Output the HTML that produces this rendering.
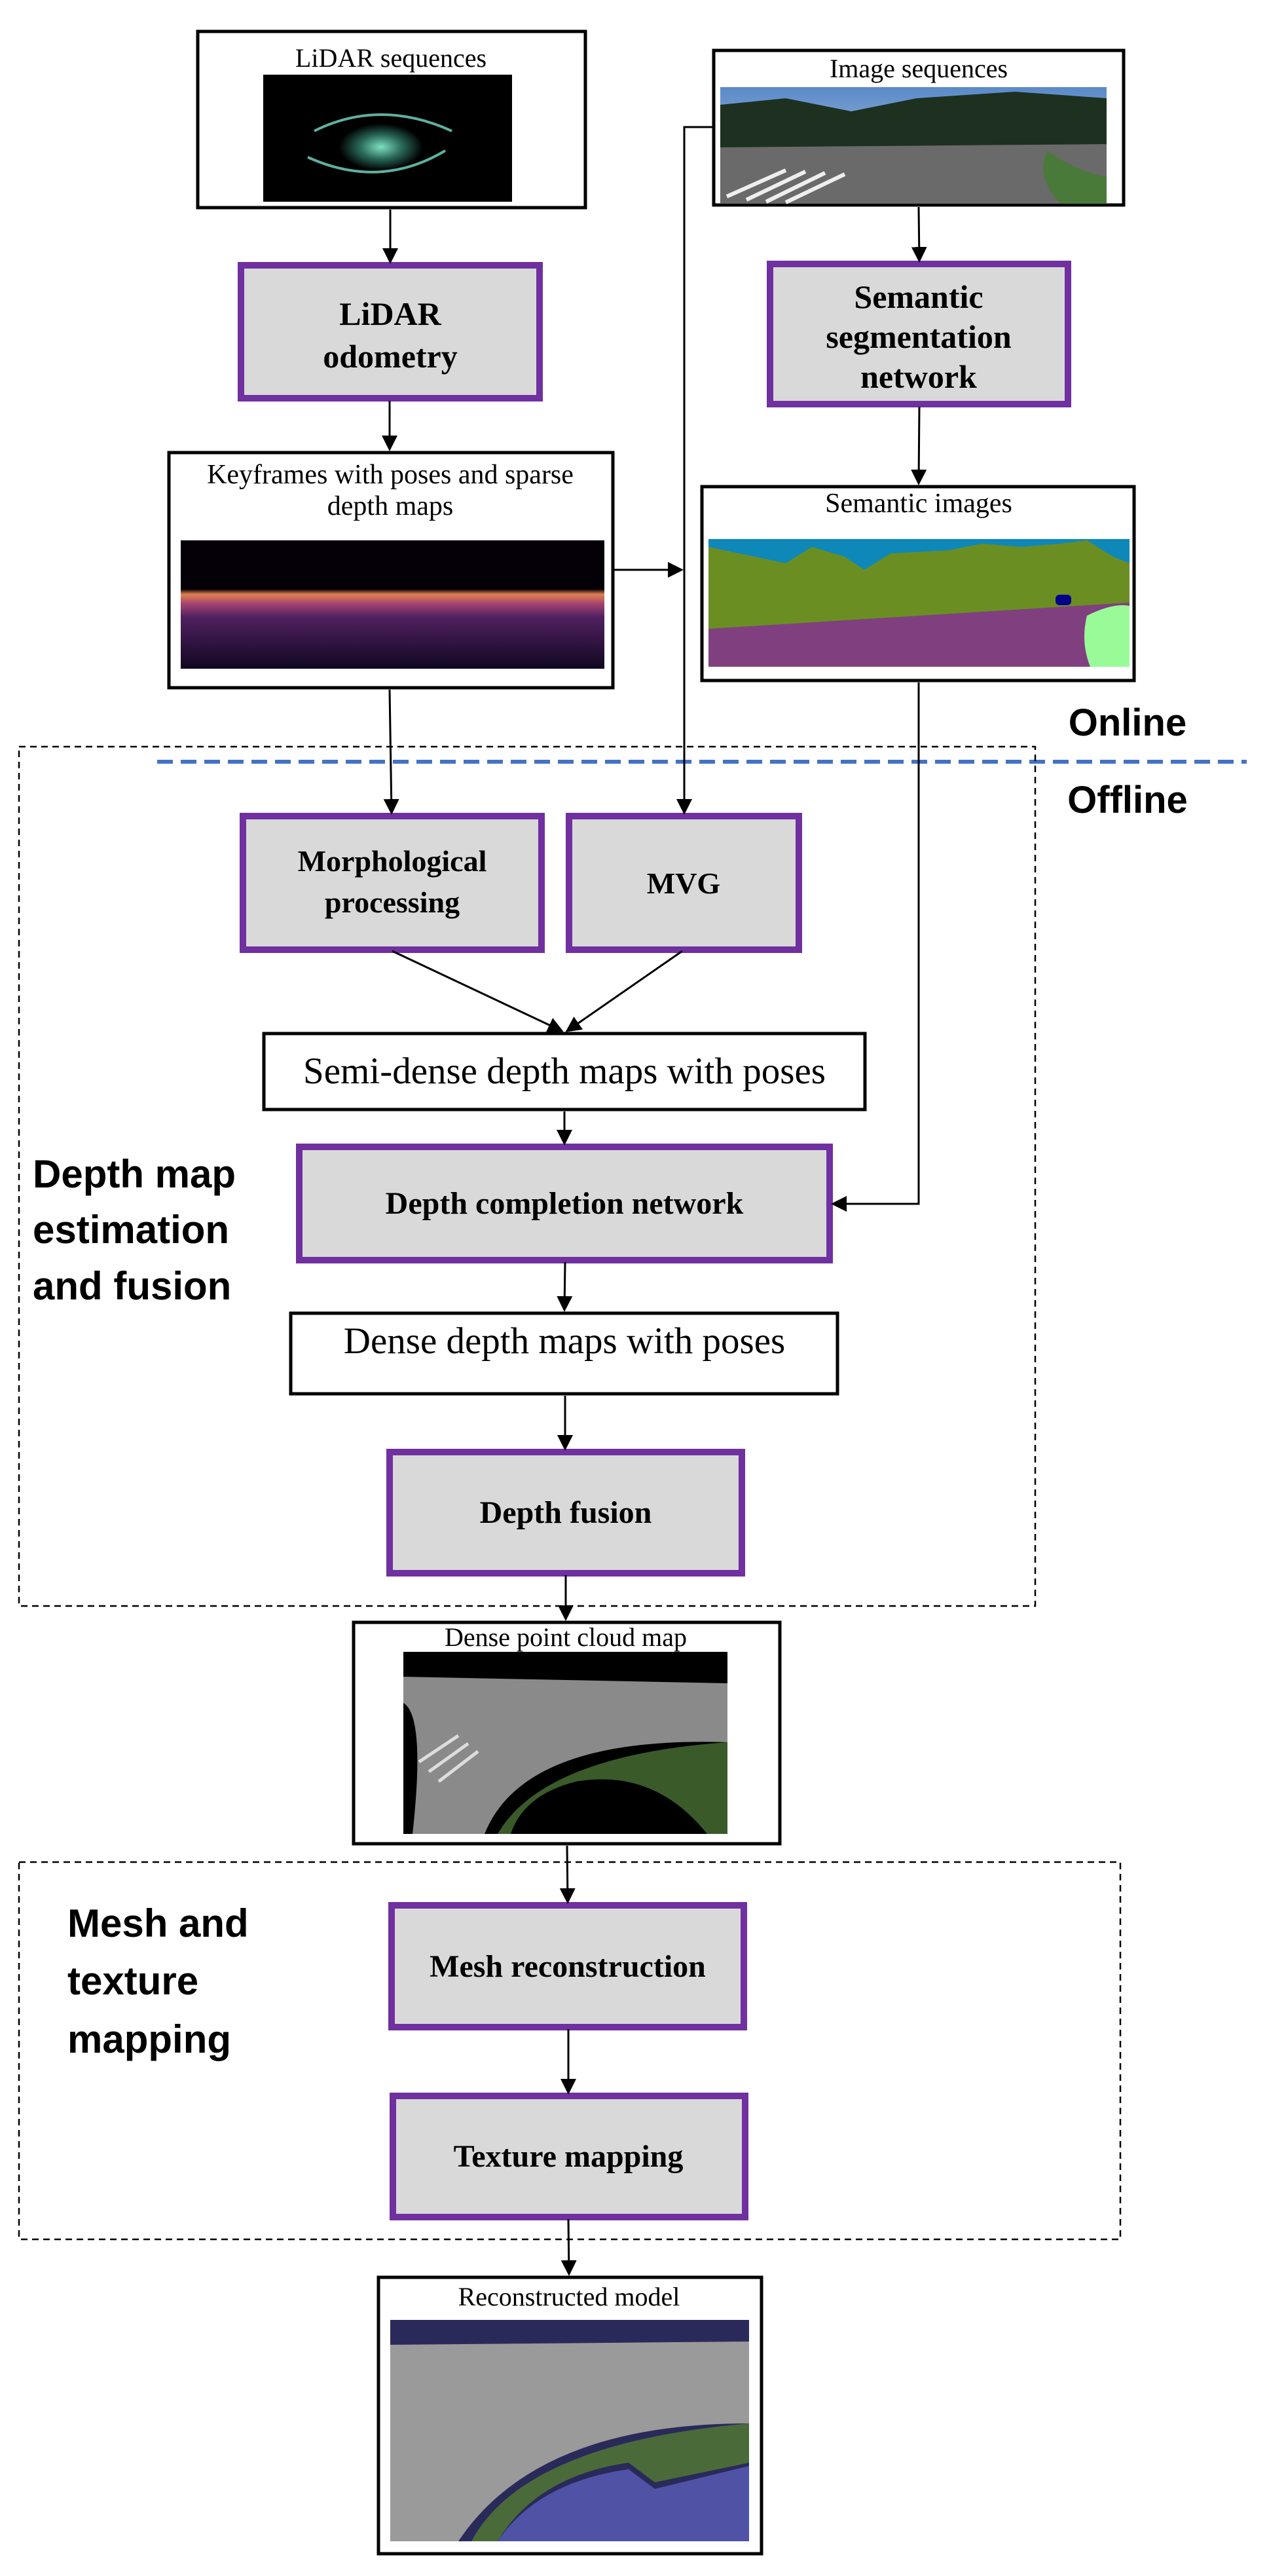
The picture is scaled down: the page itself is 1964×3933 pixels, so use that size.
<!DOCTYPE html>
<html><head><meta charset="utf-8"><style>html,body{margin:0;padding:0;background:#fff}svg{display:block}</style></head>
<body>
<svg xmlns="http://www.w3.org/2000/svg" width="1964" height="3933" viewBox="0 0 1964 3933">
<defs>
<marker id="ah" markerWidth="8" markerHeight="8" refX="7" refY="4" orient="auto" markerUnits="strokeWidth">
<path d="M0,0 L8,4 L0,8 z" fill="#000"/></marker>
<radialGradient id="lid" cx="0.48" cy="0.55" r="0.4"><stop offset="0" stop-color="#7fe0c0"/><stop offset="0.5" stop-color="#2a6a5a"/><stop offset="1" stop-color="#000"/></radialGradient>
<linearGradient id="kf" x1="0" y1="0" x2="0" y2="1"><stop offset="0" stop-color="#050008"/><stop offset="0.38" stop-color="#050008"/><stop offset="0.42" stop-color="#e08050"/><stop offset="0.5" stop-color="#a04070"/><stop offset="0.6" stop-color="#502060"/><stop offset="1" stop-color="#100820"/></linearGradient>
<linearGradient id="sky" x1="0" y1="0" x2="0" y2="1"><stop offset="0" stop-color="#5a8ac8"/><stop offset="1" stop-color="#c8d8e8"/></linearGradient>
</defs>
<g font-family="Liberation Serif, serif" text-anchor="middle">
<!-- LiDAR sequences -->
<rect x="302" y="48" width="592" height="269" fill="#fff" stroke="#000" stroke-width="5"/>
<text x="597" y="102" font-size="40">LiDAR sequences</text>
<rect x="402" y="114" width="380" height="194" fill="#000"/>
<ellipse cx="585" cy="220" rx="80" ry="45" fill="url(#lid)"/>
<path d="M480 200 Q580 150 690 200 M470 240 Q580 290 680 230" stroke="#5fb0a0" stroke-width="4" fill="none"/>
<!-- Image sequences -->
<rect x="1090" y="77" width="626" height="236" fill="#fff" stroke="#000" stroke-width="5"/>
<text x="1403" y="118" font-size="40">Image sequences</text>
<rect x="1100" y="133" width="590" height="178" fill="url(#sky)"/>
<path d="M1100 160 L1200 150 L1300 170 L1400 150 L1550 140 L1690 150 L1690 230 L1100 225 z" fill="#1e3020"/>
<path d="M1100 225 L1690 220 L1690 311 L1100 311 z" fill="#6a6a6a"/>
<path d="M1600 230 Q1640 260 1690 270 L1690 311 L1620 311 Q1580 270 1600 230z" fill="#4a7a3a"/>
<path d="M1110 300 L1200 260 M1140 305 L1230 262 M1170 308 L1260 264 M1200 309 L1290 266" stroke="#eee" stroke-width="6"/>
<!-- LiDAR odometry -->
<rect x="368" y="405" width="456" height="203" fill="#d9d9d9" stroke="#7030a0" stroke-width="10"/>
<text x="596" y="496" font-size="50" font-weight="bold">LiDAR</text>
<text x="596" y="561" font-size="50" font-weight="bold">odometry</text>
<!-- Semantic segmentation -->
<rect x="1176" y="403" width="455" height="214" fill="#d9d9d9" stroke="#7030a0" stroke-width="10"/>
<text x="1403" y="470" font-size="50" font-weight="bold">Semantic</text>
<text x="1403" y="531" font-size="50" font-weight="bold">segmentation</text>
<text x="1403" y="592" font-size="50" font-weight="bold">network</text>
<!-- Keyframes -->
<rect x="258" y="691" width="678" height="359" fill="#fff" stroke="#000" stroke-width="5"/>
<text x="596" y="738" font-size="42">Keyframes with poses and sparse</text>
<text x="596" y="786" font-size="42">depth maps</text>
<rect x="276" y="825" width="647" height="196" fill="url(#kf)"/>
<!-- Semantic images -->
<rect x="1072" y="743" width="660" height="296" fill="#fff" stroke="#000" stroke-width="5"/>
<text x="1403" y="782" font-size="42">Semantic images</text>
<rect x="1082" y="823" width="643" height="195" fill="#0e88b8"/>
<path d="M1082 835 L1200 860 L1240 835 L1290 850 L1320 870 L1360 845 L1450 840 L1500 830 L1560 835 L1620 830 L1660 825 L1700 850 L1725 860 L1725 940 L1082 960 z" fill="#6b8e23"/>
<path d="M1082 960 L1725 920 L1725 1018 L1082 1018 z" fill="#804080"/>
<path d="M1660 940 Q1700 920 1725 925 L1725 1018 L1665 1018 Q1650 980 1660 940z" fill="#98fb98"/>
<rect x="1612" y="908" width="24" height="16" rx="6" fill="#00008b"/>
<!-- Online/Offline -->
<text x="1722" y="1123" font-size="58" font-weight="bold" font-family="Liberation Sans, sans-serif">Online</text>
<text x="1722" y="1241" font-size="58" font-weight="bold" font-family="Liberation Sans, sans-serif">Offline</text>
<line x1="240" y1="1163" x2="1904" y2="1163" stroke="#4472c4" stroke-width="6" stroke-dasharray="24,12"/>
<!-- Dashed box 1 -->
<rect x="29" y="1140" width="1552" height="1312" fill="none" stroke="#000" stroke-width="2.5" stroke-dasharray="10,7"/>
<text font-family="Liberation Sans, sans-serif" font-size="60" font-weight="bold" text-anchor="start"><tspan x="50" y="1813">Depth map</tspan><tspan x="50" y="1898">estimation</tspan><tspan x="50" y="1984">and fusion</tspan></text>
<!-- Morph / MVG -->
<rect x="371" y="1246" width="456" height="204" fill="#d9d9d9" stroke="#7030a0" stroke-width="10"/>
<text x="599" y="1330" font-size="46" font-weight="bold">Morphological</text>
<text x="599" y="1393" font-size="46" font-weight="bold">processing</text>
<rect x="869" y="1246" width="351" height="204" fill="#d9d9d9" stroke="#7030a0" stroke-width="10"/>
<text x="1044" y="1364" font-size="46" font-weight="bold">MVG</text>
<!-- Semi-dense -->
<rect x="403" y="1578" width="918" height="116" fill="#fff" stroke="#000" stroke-width="5"/>
<text x="862" y="1654" font-size="57">Semi-dense depth maps with poses</text>
<!-- Depth completion -->
<rect x="457" y="1751" width="810" height="173" fill="#d9d9d9" stroke="#7030a0" stroke-width="10"/>
<text x="862" y="1853" font-size="48" font-weight="bold">Depth completion network</text>
<!-- Dense depth -->
<rect x="444" y="2005" width="835" height="123" fill="#fff" stroke="#000" stroke-width="5"/>
<text x="862" y="2066" font-size="57">Dense depth maps with poses</text>
<!-- Depth fusion -->
<rect x="595" y="2217" width="538" height="185" fill="#d9d9d9" stroke="#7030a0" stroke-width="10"/>
<text x="864" y="2325" font-size="48" font-weight="bold">Depth fusion</text>
<!-- Dense point cloud -->
<rect x="540" y="2477" width="651" height="338" fill="#fff" stroke="#000" stroke-width="5"/>
<text x="864" y="2513" font-size="40">Dense point cloud map</text>
<rect x="616" y="2522" width="495" height="278" fill="#000"/>
<path d="M616 2560 L1111 2570 L1111 2660 Q800 2650 740 2800 L630 2800 Q650 2620 616 2600z" fill="#8a8a8a"/>
<path d="M760 2800 Q830 2680 1111 2660 L1111 2800 L1080 2800 Q1000 2700 880 2720 Q800 2740 780 2800z" fill="#3a5a2a"/>
<path d="M640 2690 L700 2650 M655 2705 L715 2662 M670 2720 L730 2674" stroke="#ddd" stroke-width="5"/>
<!-- Dashed box 2 -->
<rect x="29" y="2843" width="1682" height="576" fill="none" stroke="#000" stroke-width="2.5" stroke-dasharray="10,7"/>
<text font-family="Liberation Sans, sans-serif" font-size="60" font-weight="bold" text-anchor="start"><tspan x="103" y="2957">Mesh and</tspan><tspan x="103" y="3045">texture</tspan><tspan x="103" y="3134">mapping</tspan></text>
<rect x="598" y="2909" width="538" height="186" fill="#d9d9d9" stroke="#7030a0" stroke-width="10"/>
<text x="867" y="3018" font-size="48" font-weight="bold">Mesh reconstruction</text>
<rect x="600" y="3200" width="538" height="185" fill="#d9d9d9" stroke="#7030a0" stroke-width="10"/>
<text x="868" y="3308" font-size="48" font-weight="bold">Texture mapping</text>
<!-- Reconstructed -->
<rect x="578" y="3477" width="585" height="422" fill="#fff" stroke="#000" stroke-width="5"/>
<text x="869" y="3520" font-size="40">Reconstructed model</text>
<rect x="596" y="3542" width="548" height="338" fill="#2a2a5a"/>
<path d="M596 3580 L1144 3575 L1144 3700 Q820 3700 700 3880 L596 3880z" fill="#9a9a9a"/>
<path d="M720 3880 Q800 3730 1144 3700 L1144 3760 L1000 3790 L960 3760 Q820 3780 760 3880z" fill="#4a6a3a"/>
<path d="M760 3880 Q820 3790 960 3770 L1000 3800 L1144 3765 L1144 3880z" fill="#5052a6"/>
</g>
<!-- connectors -->
<g stroke="#000" stroke-width="3" fill="none" marker-end="url(#ah)">
<line x1="596" y1="320" x2="596" y2="400"/>
<line x1="595" y1="612" x2="595" y2="686"/>
<line x1="1403" y1="316" x2="1404" y2="398"/>
<line x1="1404" y1="621" x2="1403" y2="738"/>
<polyline points="1090,194 1045,194 1045,1241"/>
<line x1="938" y1="870" x2="1041" y2="870"/>
<line x1="595" y1="1053" x2="598" y2="1241"/>
<polyline points="1403,1042 1403,1838 1272,1838"/>
<line x1="599" y1="1452" x2="858" y2="1574"/>
<line x1="1042" y1="1452" x2="866" y2="1574"/>
<line x1="862" y1="1697" x2="862" y2="1746"/>
<line x1="863" y1="1927" x2="862" y2="2000"/>
<line x1="863" y1="2131" x2="863" y2="2212"/>
<line x1="864" y1="2405" x2="864" y2="2472"/>
<line x1="866" y1="2818" x2="867" y2="2904"/>
<line x1="868" y1="3098" x2="868" y2="3195"/>
<line x1="868" y1="3388" x2="869" y2="3472"/>
</g>
</svg>
</body></html>
